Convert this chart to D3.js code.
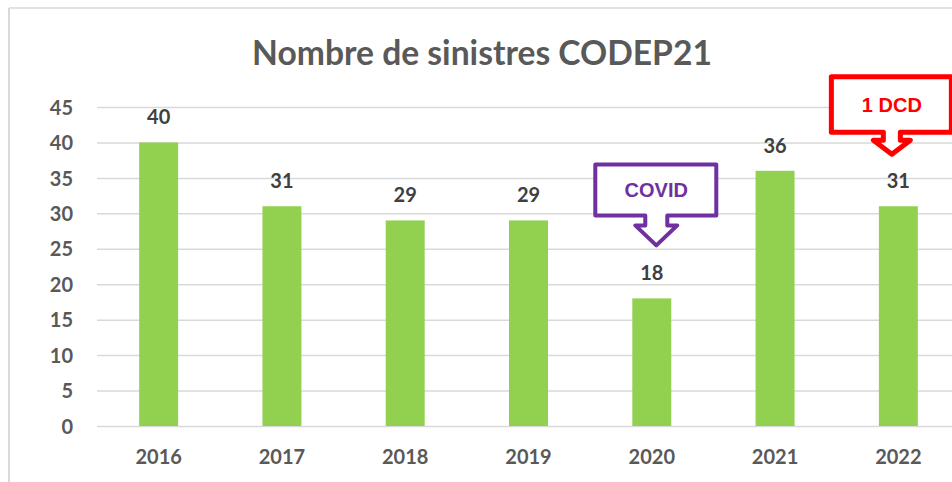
<!DOCTYPE html>
<html>
<head>
<meta charset="utf-8">
<script src="https://cdn.jsdelivr.net/npm/d3@7"></script>
<style>
    body { margin: 0; background: #fff; }
    svg { display: block; }
    .lbl { font-family: Lato, "Open Sans", sans-serif; font-weight: bold; }
</style>
</head>
<body>
<svg id="chart" width="952" height="482"></svg>
<script>
// Data
var years = ['2016', '2017', '2018', '2019', '2020', '2021', '2022'];
var sinistres = [40, 31, 29, 29, 18, 36, 31];
var yTicks = [0, 5, 10, 15, 20, 25, 30, 35, 40, 45];
var calloutYears = ['2020', '2022'];
var calloutTexts = ['COVID', '1 DCD'];

// Callout shapes (looks, not data)
var calloutStyles = [
    { color: '#7030A0', dx: 4.5, w: 121, h: 51, sw: 11, hw: 21, sl: 10, hl: 20, stroke: 4, gap: 53 },
    { color: '#FF0000', dx: -6.5, w: 120, h: 55.5, sw: 8.5, hw: 18.5, sl: 8, hl: 14, stroke: 5, gap: 52 }
];

var svg = d3.select('#chart');
var width = 952, height = 482;

var x = d3.scaleBand()
    .domain(years)
    .range([97, 960])
    .paddingInner(0.684)
    .paddingOuter(0.342);

var y = d3.scaleLinear()
    .domain([0, 45])
    .range([426, 107]);

// chart area frame (only left and top edges visible)
svg.append('line')
    .attr('x1', 9).attr('x2', 9).attr('y1', 8).attr('y2', height)
    .attr('stroke', '#d9d9d9').attr('stroke-width', 2);
svg.append('line')
    .attr('x1', 9).attr('x2', width).attr('y1', 8).attr('y2', 8)
    .attr('stroke', '#d9d9d9').attr('stroke-width', 1.5);

// title, fitted to the reference width
var title = svg.append('text')
    .attr('class', 'lbl')
    .attr('x', 482).attr('y', 65)
    .attr('text-anchor', 'middle')
    .attr('fill', '#595959')
    .style('font-size', '30px')
    .text('Nombre de sinistres CODEP21');
var tw = title.node().getComputedTextLength();
title.style('font-size', (30 * 460 / tw).toFixed(2) + 'px');

// horizontal gridlines
var yAxis = d3.axisLeft(y)
    .tickValues(yTicks)
    .tickSize(-(width - 97))
    .tickPadding(24);
var gy = svg.append('g')
    .attr('transform', 'translate(97,0)')
    .call(yAxis);
gy.select('.domain').remove();
gy.selectAll('.tick line')
    .attr('stroke', '#d9d9d9')
    .attr('stroke-width', 1.5);
gy.selectAll('.tick text')
    .attr('class', 'lbl')
    .attr('fill', '#595959')
    .attr('dy', '0.36em')
    .style('font-size', '20px');

// year labels
var xAxis = d3.axisBottom(x).tickSize(0).tickPadding(24);
var gx = svg.append('g')
    .attr('transform', 'translate(0,426)')
    .call(xAxis);
gx.select('.domain').remove();
gx.selectAll('.tick text')
    .attr('class', 'lbl')
    .attr('fill', '#595959')
    .style('font-size', '20px');

// bars
svg.append('g').selectAll('rect')
    .data(sinistres)
    .enter().append('rect')
        .attr('x', function(d, i) { return x(years[i]); })
        .attr('y', function(d) { return y(d); })
        .attr('width', x.bandwidth())
        .attr('height', function(d) { return y(0) - y(d); })
        .attr('fill', '#92D050');

// value labels
svg.append('g').selectAll('text')
    .data(sinistres)
    .enter().append('text')
        .attr('class', 'lbl')
        .attr('x', function(d, i) { return x(years[i]) + x.bandwidth() / 2; })
        .attr('y', function(d) { return y(d) - 18; })
        .attr('text-anchor', 'middle')
        .attr('fill', '#404040')
        .style('font-size', '20px')
        .text(function(d) { return d; });

// callouts: box with a downward arrow
var calloutPath = function(tx, ty, s) {
    var bottom = ty - s.hl - s.sl,
        top = bottom - s.h,
        cx = tx - 0.5,
        left = cx - s.w / 2,
        right = cx + s.w / 2;
    return 'M' + left + ',' + top +
        'H' + right + 'V' + bottom +
        'H' + (tx + s.sw) + 'V' + (bottom + s.sl) +
        'H' + (tx + s.hw) + 'L' + tx + ',' + ty +
        'L' + (tx - s.hw) + ',' + (bottom + s.sl) +
        'H' + (tx - s.sw) + 'V' + bottom +
        'H' + left + 'Z';
};

calloutYears.forEach(function(yr, i) {
    var s = calloutStyles[i];
    var v = sinistres[years.indexOf(yr)];
    var tx = x(yr) + x.bandwidth() / 2 + s.dx;
    var ty = y(v) - s.gap;
    svg.append('path')
        .attr('d', calloutPath(tx, ty, s))
        .attr('fill', '#fff')
        .attr('stroke', s.color)
        .attr('stroke-width', s.stroke)
        .attr('stroke-linejoin', 'round');
    svg.append('text')
        .attr('x', tx)
        .attr('y', ty - s.hl - s.sl - s.h / 2)
        .attr('dy', '0.36em')
        .attr('text-anchor', 'middle')
        .attr('fill', s.color)
        .style('font-family', '"Liberation Sans", Arial, sans-serif')
        .style('font-weight', 'bold')
        .style('font-size', '20px')
        .text(calloutTexts[i]);
});
</script>
</body>
</html>
